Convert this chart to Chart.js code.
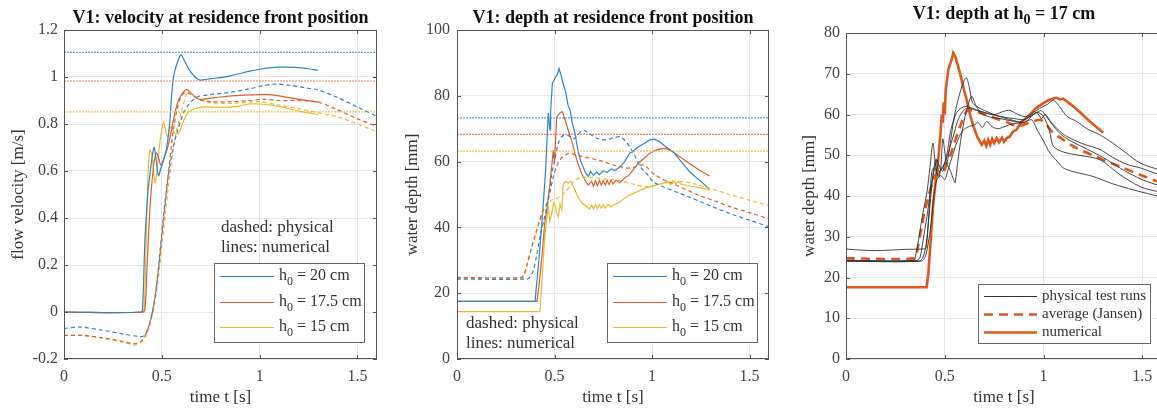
<!DOCTYPE html>
<html>
<head>
<meta charset="utf-8">
<script src="https://cdn.jsdelivr.net/npm/chart.js@4.4.0/dist/chart.umd.min.js"></script>
<style>
  html, body { margin: 0; padding: 0; background: #fff; overflow: hidden; }
  #wrap { position: relative; width: 1157px; height: 412px; overflow: hidden; }
  canvas { position: absolute; top: 0; }
</style>
</head>
<body>
<div id="wrap">
  <canvas id="vel" width="390" height="412" style="left:0px"></canvas>
  <canvas id="depth" width="390" height="412" style="left:390px"></canvas>
  <canvas id="runs" width="383" height="412" style="left:780px"></canvas>
</div>
<script>
// ---- tick values ----
var timeTicks = [0, 0.5, 1, 1.5];
var velTicks = [-0.2, 0, 0.2, 0.4, 0.6, 0.8, 1, 1.2];
var depthTicks = [0, 20, 40, 60, 80, 100];
var runTicks = [0, 10, 20, 30, 40, 50, 60, 70, 80];

// ---- panel 1: velocity [t (s), v (m/s)] ----
var velRef = [1.105, 0.983, 0.852]; // dotted levels for h0 = 20, 17.5, 15 cm

var velNum20 = [[0,0],[0.395,0],[0.402,0.02],[0.414,0.31],[0.428,0.5],[0.44,0.59],[0.46,0.70],[0.472,0.64],[0.483,0.58],[0.495,0.61],[0.51,0.65],[0.525,0.70],[0.54,0.80],[0.55,0.92],[0.56,1.0],[0.575,1.05],[0.597,1.094],[0.615,1.07],[0.64,1.03],[0.67,1.0],[0.696,0.987],[0.75,0.993],[0.8,0.997],[0.85,1.005],[0.9,1.015],[0.95,1.025],[1.0,1.033],[1.05,1.039],[1.1,1.042],[1.15,1.042],[1.2,1.04],[1.25,1.035],[1.3,1.028]];
var velNum175 = [[0,0],[0.405,0],[0.415,0.02],[0.425,0.2],[0.44,0.45],[0.455,0.6],[0.465,0.66],[0.474,0.677],[0.485,0.65],[0.495,0.625],[0.505,0.64],[0.517,0.668],[0.53,0.70],[0.55,0.775],[0.565,0.84],[0.585,0.90],[0.605,0.93],[0.627,0.947],[0.645,0.935],[0.67,0.915],[0.696,0.905],[0.75,0.91],[0.8,0.915],[0.9,0.922],[1.0,0.925],[1.05,0.925],[1.1,0.92],[1.2,0.905],[1.3,0.893]];
var velNum15 = [[0,0],[0.40,0],[0.41,0.02],[0.42,0.3],[0.43,0.6],[0.44,0.69],[0.452,0.65],[0.465,0.55],[0.475,0.6],[0.49,0.72],[0.508,0.81],[0.52,0.77],[0.53,0.746],[0.54,0.78],[0.55,0.79],[0.565,0.76],[0.585,0.76],[0.61,0.81],[0.635,0.85],[0.68,0.868],[0.73,0.873],[0.8,0.87],[0.9,0.877],[0.95,0.885],[1.0,0.885],[1.1,0.875],[1.2,0.855],[1.3,0.84]];

var velPhys20 = [[0,-0.07],[0.08,-0.064],[0.2,-0.078],[0.3,-0.093],[0.39,-0.105],[0.41,-0.1],[0.43,-0.07],[0.45,-0.01],[0.47,0.09],[0.49,0.25],[0.51,0.42],[0.53,0.56],[0.555,0.69],[0.58,0.77],[0.61,0.845],[0.64,0.885],[0.68,0.915],[0.75,0.925],[0.85,0.935],[0.95,0.95],[1.02,0.963],[1.08,0.97],[1.15,0.965],[1.25,0.952],[1.3,0.945],[1.4,0.912],[1.5,0.872],[1.6,0.832]];
var velPhys175 = [[0,-0.1],[0.1,-0.1],[0.2,-0.11],[0.3,-0.125],[0.36,-0.135],[0.4,-0.12],[0.42,-0.09],[0.44,-0.04],[0.46,0.04],[0.48,0.16],[0.5,0.32],[0.52,0.48],[0.54,0.64],[0.56,0.78],[0.59,0.9],[0.62,0.935],[0.65,0.925],[0.69,0.905],[0.75,0.895],[0.85,0.895],[0.95,0.9],[1.02,0.905],[1.1,0.9],[1.2,0.9],[1.3,0.893],[1.4,0.86],[1.5,0.822],[1.6,0.79]];
var velPhys15 = [[0,-0.1],[0.1,-0.1],[0.2,-0.112],[0.3,-0.128],[0.36,-0.14],[0.4,-0.125],[0.42,-0.1],[0.44,-0.05],[0.46,0.02],[0.48,0.13],[0.5,0.28],[0.52,0.43],[0.54,0.58],[0.57,0.75],[0.6,0.85],[0.625,0.925],[0.64,0.937],[0.66,0.925],[0.7,0.9],[0.75,0.89],[0.85,0.888],[0.95,0.893],[1.0,0.895],[1.1,0.88],[1.2,0.865],[1.3,0.848],[1.4,0.83],[1.5,0.8],[1.6,0.767]];

// ---- panel 2: depth [t (s), d (mm)] ----
var depthRef = [73.3, 68.3, 63.2];

var depthNum20 = [[0,17.5],[0.40,17.5],[0.42,30],[0.44,45],[0.455,58],[0.468,74.8],[0.477,69.6],[0.48,75],[0.489,83.8],[0.503,85.4],[0.515,86.5],[0.523,88.3],[0.535,86],[0.545,83.5],[0.557,81.2],[0.57,77],[0.58,75.7],[0.59,72],[0.605,68.6],[0.62,63.5],[0.635,60],[0.647,58.4],[0.66,56.5],[0.673,55.5],[0.685,57],[0.7,55.8],[0.715,56.8],[0.73,56],[0.75,57.2],[0.77,56.7],[0.79,57.8],[0.81,57.3],[0.835,58.4],[0.86,60],[0.886,62.6],[0.9,63],[0.93,64.5],[0.96,65.5],[0.988,66.6],[1.014,66.8],[1.04,66],[1.07,64.5],[1.107,63],[1.15,60],[1.193,56.9],[1.25,54],[1.295,51.6]];
var depthNum175 = [[0,17.5],[0.41,17.5],[0.42,22],[0.435,31],[0.45,41.3],[0.462,46],[0.477,53.5],[0.494,63.5],[0.5,59.5],[0.505,66],[0.511,73.6],[0.528,74.8],[0.54,75.2],[0.555,72.5],[0.57,69.6],[0.59,66],[0.605,62.5],[0.62,59.5],[0.639,56.4],[0.655,54.5],[0.673,52.9],[0.69,54],[0.7,52.5],[0.71,54.2],[0.72,52.7],[0.73,54.3],[0.74,52.8],[0.75,54.2],[0.76,52.9],[0.77,54.3],[0.78,53],[0.79,54.4],[0.8,53.2],[0.815,54.3],[0.835,53.6],[0.86,55],[0.88,55.8],[0.903,57.4],[0.93,59.5],[0.96,61],[0.988,62.5],[1.02,63.5],[1.056,64],[1.08,63.8],[1.106,63],[1.15,61.2],[1.19,59.5],[1.24,57.5],[1.295,55.6]];
var depthNum15 = [[0,14.4],[0.425,14.4],[0.432,20],[0.44,28],[0.45,37.2],[0.468,46.3],[0.476,42],[0.486,44.3],[0.495,47.5],[0.503,46.8],[0.512,44],[0.52,43.3],[0.528,47],[0.537,45.3],[0.545,53],[0.555,54],[0.57,53.5],[0.585,54],[0.6,52],[0.62,49.3],[0.64,47.5],[0.665,46.3],[0.68,45.6],[0.69,46.8],[0.7,45.7],[0.71,46.9],[0.72,45.8],[0.73,46.9],[0.74,45.8],[0.75,46.9],[0.76,45.9],[0.775,47],[0.79,46.2],[0.81,47],[0.83,47.5],[0.85,48.5],[0.87,49.3],[0.9,50.2],[0.93,51],[0.96,51.8],[0.988,52.4],[1.02,52.8],[1.056,53.4],[1.08,54],[1.095,53],[1.107,54.2],[1.12,53.2],[1.135,54],[1.15,53.1],[1.2,52.5],[1.25,52],[1.295,51.4]];

var depthPhys20 = [[0,24.3],[0.36,24.3],[0.375,25],[0.392,27],[0.41,32],[0.426,37.2],[0.445,42],[0.46,46.3],[0.475,51],[0.486,56.4],[0.5,60],[0.511,63.5],[0.525,66.5],[0.537,67.6],[0.562,68.1],[0.6,67],[0.625,68.5],[0.647,69.6],[0.68,68.5],[0.716,67.1],[0.767,66.6],[0.8,67.2],[0.835,67.6],[0.86,66.5],[0.886,64.5],[0.91,62],[0.937,58.8],[0.96,57],[0.98,55.9],[1.005,53.9],[1.05,52.5],[1.1,51.3],[1.14,50.4],[1.2,49],[1.25,47.8],[1.31,46.3],[1.4,44.2],[1.5,42.2],[1.6,40.2]];
var depthPhys175 = [[0,24.8],[0.33,24.8],[0.345,26],[0.36,29],[0.38,33.5],[0.4,37.5],[0.42,41.5],[0.44,45],[0.455,46.5],[0.47,49],[0.494,55.4],[0.51,58.5],[0.528,60.5],[0.55,61.8],[0.58,62.5],[0.61,62],[0.647,61.5],[0.7,60.8],[0.75,60],[0.8,59],[0.85,58.3],[0.886,58],[0.92,58.5],[0.954,59],[0.975,58.2],[1.005,56.4],[1.05,54.8],[1.1,53.5],[1.14,52.4],[1.2,50.8],[1.25,49.5],[1.31,48.3],[1.4,46.3],[1.5,44.5],[1.6,42.6]];
var depthPhys15 = [[0,24.5],[0.33,24.5],[0.345,25.5],[0.36,28.5],[0.38,33],[0.4,37],[0.42,41],[0.44,44.5],[0.46,46.5],[0.49,48.5],[0.52,49],[0.55,50.5],[0.58,52.5],[0.605,54.4],[0.64,55.2],[0.68,55.2],[0.72,55],[0.78,54.6],[0.835,54.2],[0.9,53.2],[0.95,52.5],[0.988,52.4],[1.04,53.2],[1.1,53.8],[1.16,53.9],[1.22,53.2],[1.3,51.8],[1.4,50],[1.5,48.3],[1.6,46.6]];

// ---- panel 3: h0 = 17 cm [t (s), d (mm)] ----
var run1 = [[0,27],[0.05,26.8],[0.15,26.6],[0.3,26.9],[0.39,27],[0.405,27.2],[0.415,32],[0.425,40],[0.435,46],[0.45,47],[0.465,45],[0.48,46.5],[0.5,48],[0.52,51],[0.545,55],[0.57,59],[0.6,61.2],[0.63,61.5],[0.66,61],[0.7,60.5],[0.75,60],[0.8,60.8],[0.83,61],[0.87,60],[0.91,59.5],[0.95,60.5],[0.98,61.5],[1.02,62.5],[1.05,63.5],[1.08,62],[1.12,59.5],[1.168,58.3],[1.22,56.5],[1.286,55],[1.35,53],[1.42,50.5],[1.489,48.1],[1.6,46.2]];
var run2 = [[0,24.2],[0.34,24.2],[0.355,26],[0.37,30],[0.39,36],[0.41,41],[0.425,47],[0.44,53],[0.452,48],[0.46,46],[0.47,44.5],[0.48,47],[0.49,54],[0.5,51],[0.51,48],[0.525,52],[0.55,60],[0.575,65],[0.595,68],[0.61,69],[0.625,66.5],[0.64,63],[0.66,62],[0.7,61],[0.75,60],[0.8,59.2],[0.85,58.5],[0.9,58],[0.94,59.5],[0.965,60.5],[0.99,59],[1.008,60],[1.04,58],[1.08,56],[1.118,54.6],[1.2,52.8],[1.286,51.4],[1.35,49.5],[1.42,47.8],[1.489,46.9],[1.6,45]];
var run3 = [[0,24.2],[0.36,24.2],[0.375,25],[0.39,29],[0.41,35],[0.43,42],[0.445,46],[0.46,49],[0.475,47],[0.49,46],[0.5,48],[0.515,47.5],[0.53,46],[0.545,44],[0.552,43.2],[0.565,48],[0.585,55],[0.61,61],[0.636,64.5],[0.655,62.5],[0.68,60.5],[0.72,59.5],[0.78,59],[0.83,58.5],[0.88,58.2],[0.93,59.5],[0.97,60.5],[1.0,59.5],[1.03,56],[1.05,52.2],[1.1,50.8],[1.18,50],[1.286,48.9],[1.38,45.5],[1.489,42.3],[1.6,40.8]];
var run4 = [[0,24],[0.37,24],[0.39,25],[0.405,28],[0.42,35],[0.44,45],[0.455,49],[0.47,46],[0.49,47],[0.51,50],[0.53,56],[0.555,60],[0.58,61.5],[0.61,62],[0.64,61.5],[0.67,61],[0.72,60.2],[0.78,59.5],[0.85,59],[0.9,58.8],[0.95,60],[0.985,61],[1.0,60.5],[1.03,58.5],[1.07,56],[1.12,54],[1.2,52],[1.3,49.5],[1.4,46.5],[1.5,44],[1.6,42.3]];
var run5 = [[0,24],[0.38,24],[0.4,25],[0.415,28],[0.43,33],[0.445,40],[0.46,44],[0.48,45],[0.5,44],[0.52,47],[0.54,50],[0.56,53],[0.59,56],[0.62,57],[0.65,57.5],[0.67,58],[0.69,56.8],[0.712,58.3],[0.74,57],[0.77,56.5],[0.8,57],[0.85,57.8],[0.9,58],[0.94,58.7],[0.97,56],[1.0,53.5],[1.033,50.5],[1.07,48.5],[1.1,46.9],[1.15,46],[1.25,44.8],[1.35,43],[1.455,41.5],[1.6,39.7]];
var avgJansen = [[0,24.7],[0.345,24.7],[0.358,26],[0.383,32.5],[0.4,36.5],[0.417,39.9],[0.44,43.5],[0.459,45.6],[0.493,46],[0.51,47.8],[0.527,49.7],[0.545,52.5],[0.56,54.6],[0.585,58],[0.611,60.8],[0.64,61],[0.678,60.4],[0.73,59.5],[0.78,58.7],[0.82,58],[0.864,57.1],[0.9,57.5],[0.948,58.3],[0.982,58.7],[1.01,57.8],[1.03,56.5],[1.05,55.5],[1.1,53.8],[1.151,52.2],[1.2,51],[1.26,49.8],[1.32,48.5],[1.4,47],[1.489,45.2],[1.573,43.6],[1.6,43.1]];
var numerical17 = [[0,17.6],[0.408,17.6],[0.417,21],[0.43,30],[0.442,38.3],[0.455,44],[0.467,48.9],[0.478,55],[0.485,60],[0.49,58],[0.495,63],[0.5,60],[0.505,66],[0.518,71],[0.535,73.5],[0.543,75.1],[0.555,74],[0.577,70.2],[0.595,66.5],[0.611,63.6],[0.628,60],[0.645,57.1],[0.665,54.5],[0.687,52.6],[0.7,53.6],[0.71,52.3],[0.72,53.8],[0.73,52.6],[0.74,54],[0.75,53],[0.763,54.2],[0.775,53.2],[0.79,54.3],[0.8,53.3],[0.814,54.2],[0.83,54.6],[0.845,55.8],[0.864,56.3],[0.885,58],[0.91,59],[0.932,60],[0.96,61.5],[0.999,62.8],[1.03,63.6],[1.05,63.9],[1.067,64.1],[1.085,63.7],[1.1,63.9],[1.151,62],[1.19,60.3],[1.235,58.3],[1.27,56.8],[1.303,55.5]];

// colours (MATLAB default order)
var BLUE = '#2a86c8', RED = '#dc5f30', YEL = '#efb92f', ORANGE = '#e0561c';
var FONT = "'Liberation Serif', 'DejaVu Serif', serif";

Chart.defaults.font.family = FONT;
Chart.defaults.color = '#404040';

function toXY(arr) {
  return arr.map(function (p) { return { x: p[0], y: p[1] }; });
}
function flat(v) {
  return [[0, v], [1.6, v]];
}
function line(arr, color, width, dash, tension) {
  return {
    data: toXY(arr),
    borderColor: color,
    borderWidth: width,
    borderDash: dash || [],
    tension: tension || 0,
    pointRadius: 0,
    fill: false
  };
}
function refLine(v, color) {
  return line(flat(v), color, 1.2, [2, 1], 0);
}

// draws text parts, [str, isSub]
function drawRich(ctx, parts, x, y, size, bold, align) {
  var main = (bold ? 'bold ' : '') + size + 'px ' + FONT;
  var sub = (bold ? 'bold ' : '') + Math.round(size * 0.75) + 'px ' + FONT;
  var w = 0;
  parts.forEach(function (p) { ctx.font = p[1] ? sub : main; w += ctx.measureText(p[0]).width; });
  var cx = align === 'center' ? x - w / 2 : x;
  ctx.textAlign = 'left';
  ctx.textBaseline = 'middle';
  parts.forEach(function (p) {
    ctx.font = p[1] ? sub : main;
    ctx.fillText(p[0], cx, p[1] ? y + size * 0.38 : y);
    cx += ctx.measureText(p[0]).width;
  });
}

// frame, inward ticks, title, notes and legend box
var decor = {
  id: 'decor',
  afterDraw: function (chart, args, o) {
    var ctx = chart.ctx, a = chart.chartArea;
    var sx = chart.scales.x, sy = chart.scales.y;
    ctx.save();
    ctx.strokeStyle = '#555';
    ctx.lineWidth = 1;
    ctx.strokeRect(Math.round(a.left) + 0.5, Math.round(a.top) + 0.5, Math.round(a.right - a.left) - 1, Math.round(a.bottom - a.top) - 1);
    ctx.beginPath();
    sx.ticks.forEach(function (t) {
      var px = Math.round(sx.getPixelForValue(t.value)) + 0.5;
      ctx.moveTo(px, a.bottom); ctx.lineTo(px, a.bottom - 4);
      ctx.moveTo(px, a.top); ctx.lineTo(px, a.top + 4);
    });
    sy.ticks.forEach(function (t) {
      var py = Math.round(sy.getPixelForValue(t.value)) + 0.5;
      ctx.moveTo(a.left, py); ctx.lineTo(a.left + 4, py);
      ctx.moveTo(a.right, py); ctx.lineTo(a.right - 4, py);
    });
    ctx.stroke();

    ctx.fillStyle = '#111';
    drawRich(ctx, o.title, (a.left + a.right) / 2, o.titleY, 18, true, 'center');

    ctx.fillStyle = '#333';
    (o.notes || []).forEach(function (n) {
      drawRich(ctx, [[n[0], 0]], n[1], n[2], 17, false, 'left');
    });

    var L = o.legend;
    ctx.fillStyle = '#fff';
    ctx.fillRect(L.box[0], L.box[1], L.box[2] - L.box[0], L.box[3] - L.box[1]);
    ctx.strokeStyle = '#666';
    ctx.strokeRect(L.box[0] + 0.5, L.box[1] + 0.5, L.box[2] - L.box[0], L.box[3] - L.box[1]);
    L.rows.forEach(function (r) {
      ctx.beginPath();
      ctx.strokeStyle = r.color;
      ctx.lineWidth = r.width;
      ctx.setLineDash(r.dash || []);
      ctx.moveTo(L.lineX[0], r.y + 0.5);
      ctx.lineTo(L.lineX[1], r.y + 0.5);
      ctx.stroke();
      ctx.setLineDash([]);
      ctx.fillStyle = '#333';
      drawRich(ctx, r.text, L.textX, r.y, L.size, false, 'left');
    });
    ctx.restore();
  }
};

function axisOpts(ticks, min, max, axisTitle, fit, titlePad, tickPad) {
  return {
    type: 'linear',
    min: min,
    max: max,
    afterBuildTicks: function (scale) {
      scale.ticks = ticks.map(function (v) { return { value: v }; });
    },
    afterFit: function (scale) {
      if (scale.isHorizontal()) scale.height = fit; else scale.width = fit;
    },
    ticks: {
      padding: tickPad,
      font: { size: 16 },
      color: '#444',
      callback: function (v) { return String(v); }
    },
    grid: { color: '#e6e6e6', drawTicks: false },
    border: { display: false },
    title: {
      display: true,
      text: axisTitle,
      color: '#333',
      font: { size: 17 },
      padding: titlePad
    }
  };
}

function makeChart(id, datasets, xFit, yFit, yTicks, yMin, yMax, yTitle, yTitlePad, yTickPad, pad, decorOpts) {
  return new Chart(document.getElementById(id).getContext('2d'), {
    type: 'line',
    data: { datasets: datasets },
    options: {
      responsive: false,
      animation: false,
      devicePixelRatio: 1,
      layout: { padding: pad },
      plugins: {
        legend: { display: false },
        tooltip: { enabled: false },
        decor: decorOpts
      },
      scales: {
        x: axisOpts(timeTicks, 0, 1.6, 'time t [s]', xFit, { top: 0, bottom: 4 }, 8),
        y: axisOpts(yTicks, yMin, yMax, yTitle, yFit, { top: yTitlePad, bottom: 0 }, yTickPad)
      }
    },
    plugins: [decor]
  });
}

function h0(rest) {
  return [['h', 0], ['0', 1], [rest, 0]];
}

var REF_BLUE = 'rgba(42,134,200,0.75)', REF_RED = 'rgba(220,95,48,0.75)', REF_YEL = 'rgba(239,185,47,0.85)';

// panel 1
makeChart('vel', [
  refLine(velRef[0], REF_BLUE),
  refLine(velRef[1], REF_RED),
  refLine(velRef[2], REF_YEL),
  line(velPhys20, BLUE, 1.2, [4, 3], 0.3),
  line(velPhys175, RED, 1.2, [4, 3], 0.3),
  line(velPhys15, YEL, 1.2, [4, 3], 0.3),
  line(velNum20, BLUE, 1.2, [], 0.3),
  line(velNum175, RED, 1.2, [], 0.3),
  line(velNum15, YEL, 1.2, [], 0.3)
], 53, 64, velTicks, -0.2, 1.2, 'flow velocity [m/s]', 8, 6,
{ top: 30, right: 13, bottom: 0, left: 0 },
{
  title: [['V1: velocity at residence front position', 0]], titleY: 18,
  notes: [['dashed: physical', 221, 228], ['lines: numerical', 221, 248]],
  legend: {
    box: [214, 263, 364, 342], lineX: [220, 274], textX: 279, size: 16,
    rows: [
      { y: 276, color: BLUE, width: 1.2, text: h0(' = 20 cm') },
      { y: 302, color: RED, width: 1.2, text: h0(' = 17.5 cm') },
      { y: 327, color: YEL, width: 1.2, text: h0(' = 15 cm') }
    ]
  }
});

// panel 2
makeChart('depth', [
  refLine(depthRef[0], REF_BLUE),
  refLine(depthRef[1], REF_RED),
  refLine(depthRef[2], REF_YEL),
  line(depthPhys20, BLUE, 1.2, [4, 3], 0.3),
  line(depthPhys175, RED, 1.2, [4, 3], 0.3),
  line(depthPhys15, YEL, 1.2, [4, 3], 0.3),
  line(depthNum20, BLUE, 1.2, [], 0),
  line(depthNum175, RED, 1.2, [], 0),
  line(depthNum15, YEL, 1.2, [], 0)
], 53, 67, depthTicks, 0, 100, 'water depth [mm]', 12, 7,
{ top: 30, right: 11, bottom: 0, left: 0 },
{
  title: [['V1: depth at residence front position', 0]], titleY: 18,
  notes: [['dashed: physical', 76, 324], ['lines: numerical', 76, 344]],
  legend: {
    box: [217, 263, 367, 342], lineX: [223, 277], textX: 282, size: 16,
    rows: [
      { y: 276, color: BLUE, width: 1.2, text: h0(' = 20 cm') },
      { y: 302, color: RED, width: 1.2, text: h0(' = 17.5 cm') },
      { y: 327, color: YEL, width: 1.2, text: h0(' = 15 cm') }
    ]
  }
});

// panel 3
makeChart('runs', [
  line(run1, '#333', 0.9, [], 0.3),
  line(run2, '#333', 0.9, [], 0.3),
  line(run3, '#333', 0.9, [], 0.3),
  line(run4, '#333', 0.9, [], 0.3),
  line(run5, '#333', 0.9, [], 0.3),
  line(avgJansen, ORANGE, 2.6, [9, 6], 0.3),
  line(numerical17, ORANGE, 2.6, [], 0)
], 53, 66, runTicks, 0, 80, 'water depth [mm]', 19, 6,
{ top: 33, right: 1, bottom: 0, left: 0 },
{
  title: [['V1: depth at h', 0], ['0', 1], [' = 17 cm', 0]], titleY: 14,
  notes: [],
  legend: {
    box: [198, 284, 370, 343], lineX: [204, 257], textX: 262, size: 15,
    rows: [
      { y: 296, color: '#333', width: 1, text: [['physical test runs', 0]] },
      { y: 314, color: ORANGE, width: 2.6, dash: [9, 6], text: [['average (Jansen)', 0]] },
      { y: 332, color: ORANGE, width: 2.6, text: [['numerical', 0]] }
    ]
  }
});
</script>
</body>
</html>
